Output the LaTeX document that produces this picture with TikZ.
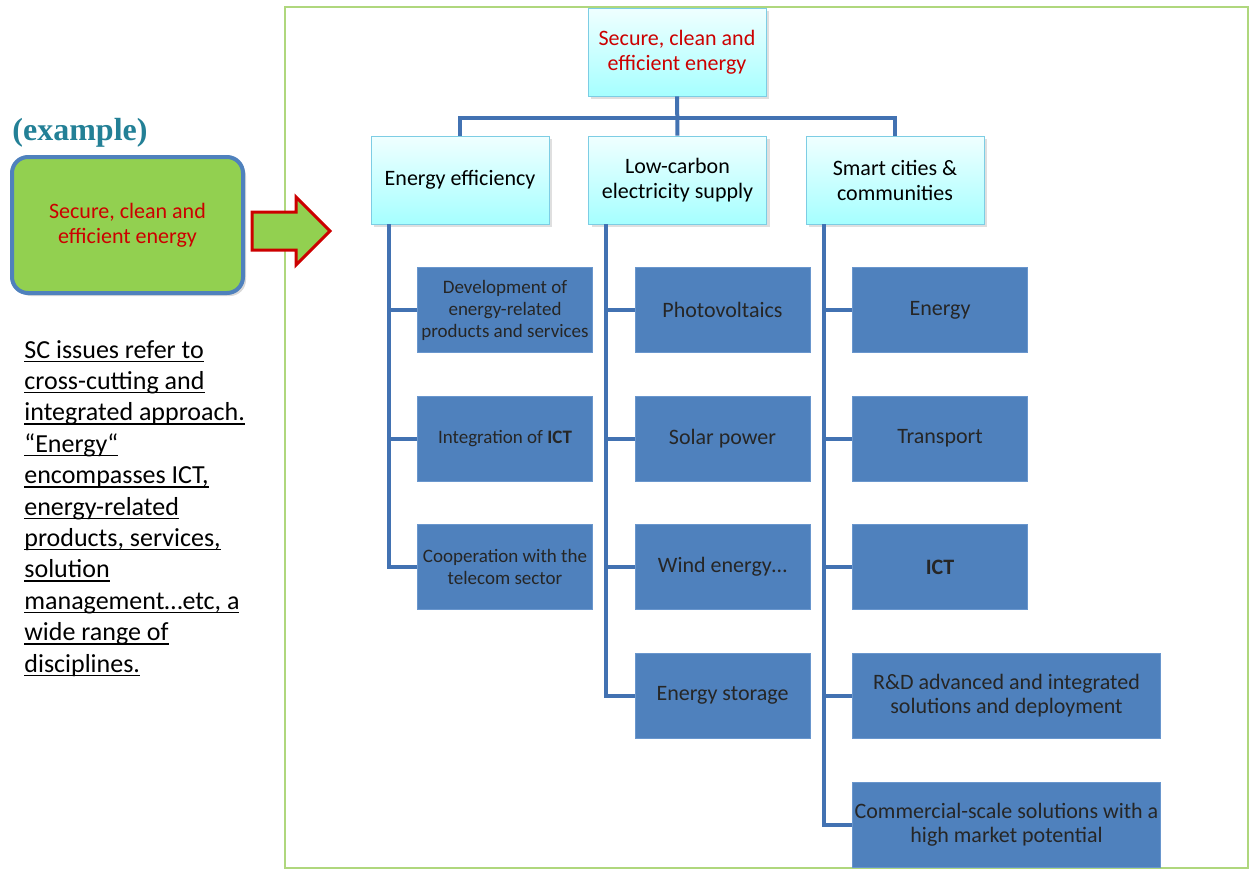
\documentclass[tikz,border=0pt]{standalone}
\usepackage{fontspec}
\setmainfont{Carlito}
\newfontfamily\examplefont{Liberation Serif}
\newcommand{\noteline}[1]{\setbox0\hbox{#1}\rlap{\rule[-2pt]{\wd0}{0.7pt}}\box0}
\usetikzlibrary{shapes.geometric, arrows, shadows}
\definecolor{frameGreen}{RGB}{175,215,125}
\definecolor{taskBlue}{RGB}{79,129,189}
\definecolor{taskEdge}{RGB}{105,150,205}
\definecolor{linkBlue}{RGB}{66,114,178}
\definecolor{goalRed}{RGB}{204,0,0}
\definecolor{sampleGreen}{RGB}{146,208,80}
\definecolor{exampleTeal}{RGB}{35,128,150}
\definecolor{areaEdge}{RGB}{125,205,228}
\tikzstyle{frame} = [draw=frameGreen, line width=0.8pt]
\tikzstyle{goal} = [rectangle, minimum width=89pt, minimum height=44pt, align=center, draw=areaEdge, top color=cyan!6, bottom color=cyan!35!white, drop shadow={shadow xshift=1.5pt, shadow yshift=-1.5pt, opacity=0.25}, font=\fontsize{11}{12.5}\selectfont]
\tikzstyle{area} = [goal]
\tikzstyle{task} = [rectangle, minimum width=87.5pt, minimum height=42.5pt, inner xsep=1pt, align=center, draw=taskEdge, fill=taskBlue, text=black!85, font=\fontsize{11}{12}\selectfont]
\tikzstyle{smalltask} = [task, font=\fontsize{9.5}{11}\selectfont]
\tikzstyle{widetask} = [task, minimum width=154pt]
\tikzstyle{sample} = [rectangle, rounded corners=8pt, minimum width=115.5pt, minimum height=68pt, align=center, draw=taskBlue, line width=2pt, fill=sampleGreen, text=goalRed, drop shadow={shadow xshift=1.5pt, shadow yshift=-1.5pt, opacity=0.3}, font=\fontsize{11}{12.5}\selectfont]
\tikzstyle{blockarrow} = [draw=goalRed, line width=1.5pt, fill=sampleGreen, line join=miter]
\tikzstyle{note} = [align=left, inner sep=0pt, font=\fontsize{13}{15.7}\selectfont]
\tikzstyle{link} = [draw=linkBlue, line width=2pt]

\begin{document}
\begin{tikzpicture}[x=0.5pt, y=-0.5pt]
        \useasboundingbox (0,0) rectangle (1254,869);
        \draw [frame] (285,7) rectangle (1248,868);

        % left side: the example
        \node (example) [text=exampleTeal, font=\examplefont\bfseries\fontsize{16}{18}\selectfont] at (80,133) {(example)};
        \node (sample) [sample] at (127.5,225) {Secure, clean and\\efficient energy};
        \draw [blockarrow] (252,212) -- (296,212) -- (296,197) -- (330,231) -- (296,265) -- (296,250) -- (252,250) -- cycle;
        \node (issues) [note, anchor=base west] at (24,672) {\noteline{SC issues refer to}\\\noteline{cross-cutting and}\\\noteline{integrated approach.}\\\noteline{“Energy“}\\\noteline{encompasses ICT,}\\\noteline{energy-related}\\\noteline{products, services,}\\\noteline{solution}\\\noteline{management…etc, a}\\\noteline{wide range of}\\\noteline{disciplines.}};

        % the tree
        \node (SCE) [goal, text=goalRed] at (677,52) {Secure, clean and\\efficient energy};
        \node (EE) [area] at (460,180) {Energy efficiency};
        \node (LC) [area, right of=EE, node distance=108.75pt] {Low-carbon\\electricity supply};
        \node (SC) [area, right of=LC, node distance=108.75pt] {Smart cities \&\\communities};

        \node (dev) [smalltask] at (505,310) {Development of\\energy-related\\products and services};
        \node (ict) [smalltask, below of=dev, node distance=64.25pt] {Integration of \textbf{ICT}};
        \node (coop) [smalltask, below of=ict, node distance=64.25pt] {Cooperation with the\\telecom sector};

        \node (pv) [task] at (722.5,310) {Photovoltaics};
        \node (solar) [task, below of=pv, node distance=64.25pt] {Solar power};
        \node (wind) [task, below of=solar, node distance=64.25pt] {Wind energy…};
        \node (storage) [task, below of=wind, node distance=64.25pt] {Energy storage};

        \node (energy) [task] at (940,310) {Energy};
        \node (transport) [task, below of=energy, node distance=64.25pt] {Transport};
        \node (ictb) [task, below of=transport, node distance=64.25pt] {\textbf{ICT}};
        \node (rnd) [widetask, below of=ictb, node distance=64.25pt, xshift=33.25pt] {R\&D advanced and integrated\\solutions and deployment};
        \node (market) [widetask, below of=rnd, node distance=64.5pt] {Commercial-scale solutions with a\\high market potential};

        \coordinate (bus) at (677,118);
        \draw [link] (SCE) -- (LC);
        \draw [link] (EE.north) |- (bus) -| (SC.north);

        \draw [link] ([xshift=9pt]EE.south west) |- (dev.west);
        \draw [link] ([xshift=9pt]EE.south west) |- (ict.west);
        \draw [link] ([xshift=9pt]EE.south west) |- (coop.west);

        \draw [link] ([xshift=9pt]LC.south west) |- (pv.west);
        \draw [link] ([xshift=9pt]LC.south west) |- (solar.west);
        \draw [link] ([xshift=9pt]LC.south west) |- (wind.west);
        \draw [link] ([xshift=9pt]LC.south west) |- (storage.west);

        \draw [link] ([xshift=9pt]SC.south west) |- (energy.west);
        \draw [link] ([xshift=9pt]SC.south west) |- (transport.west);
        \draw [link] ([xshift=9pt]SC.south west) |- (ictb.west);
        \draw [link] ([xshift=9pt]SC.south west) |- (rnd.west);
        \draw [link] ([xshift=9pt]SC.south west) |- (market.west);
\end{tikzpicture}
\end{document}
